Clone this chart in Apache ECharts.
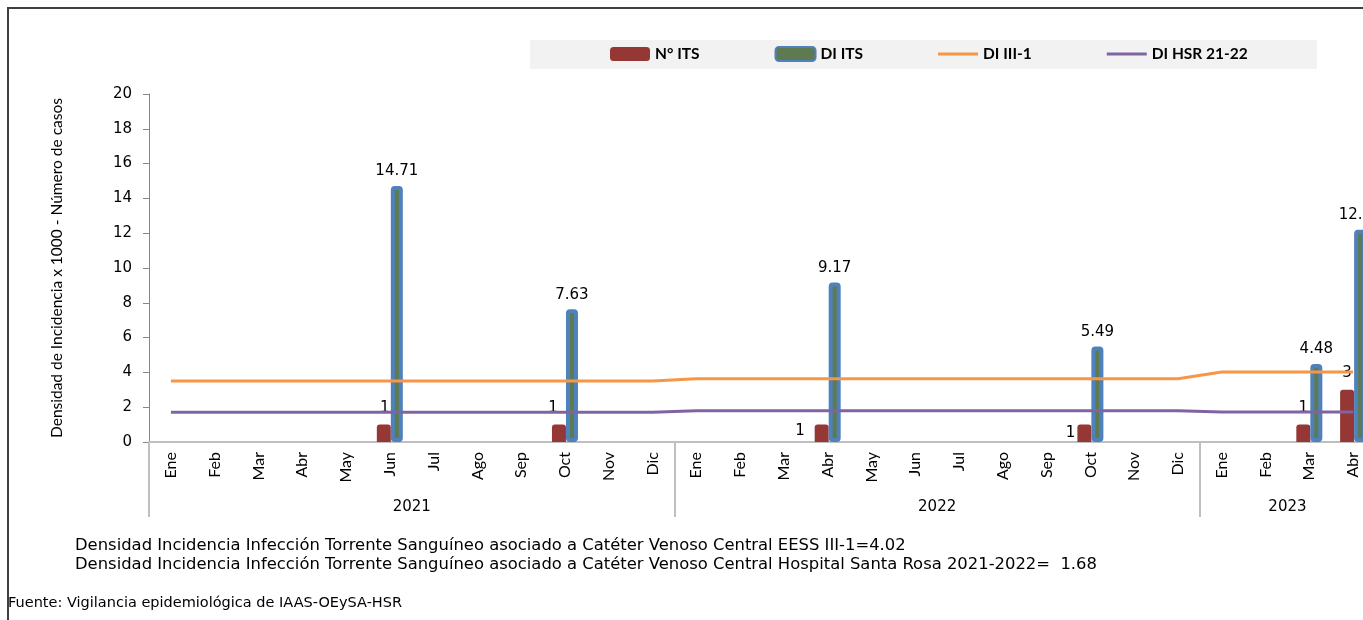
<!DOCTYPE html>
<html>
<head>
<meta charset="utf-8">
<script src="https://cdn.jsdelivr.net/npm/echarts@6/dist/echarts.min.js"></script>
<style>
html,body{margin:0;padding:0;background:#fff;}
#chart{width:1363px;height:620px;}
</style>
</head>
<body>
<div id="chart"></div>
<script>
const categories = ['Ene','Feb','Mar','Abr','May','Jun','Jul','Ago','Sep','Oct','Nov','Dic',
                    'Ene','Feb','Mar','Abr','May','Jun','Jul','Ago','Sep','Oct','Nov','Dic',
                    'Ene','Feb','Mar','Abr'];
const yearLabels = ['2021','2022','2023'];
const yearSizes = [12, 12, 4];
const countITS = [null,null,null,null,null,1,null,null,null,1,null,null,
                  null,null,null,1,null,null,null,null,null,1,null,null,
                  null,null,1,3];
const diITS = [null,null,null,null,null,14.71,null,null,null,7.63,null,null,
               null,null,null,9.17,null,null,null,null,null,5.49,null,null,
               null,null,4.48,12.20];
const diIII1 = [3.5,3.5,3.5,3.5,3.5,3.5,3.5,3.5,3.5,3.5,3.5,3.5,
                3.64,3.64,3.64,3.64,3.64,3.64,3.64,3.64,3.64,3.64,3.64,3.64,
                4.02,4.02,4.02,4.02];
const diHSR = [1.71,1.71,1.71,1.71,1.71,1.71,1.71,1.71,1.71,1.71,1.71,1.71,
               1.79,1.79,1.79,1.79,1.79,1.79,1.79,1.79,1.79,1.79,1.79,1.79,
               1.72,1.72,1.72,1.72];
const yTicks = { min: 0, max: 20, interval: 2 };
const footnotes = [
  'Densidad Incidencia Infección Torrente Sanguíneo asociado a Catéter Venoso Central EESS III-1=4.02',
  'Densidad Incidencia Infección Torrente Sanguíneo asociado a Catéter Venoso Central Hospital Santa Rosa 2021-2022=  1.68'
];
const sourceText = 'Fuente: Vigilancia epidemiológica de IAAS-OEySA-HSR';

// year group centres / boundaries in category units
const yearCenters = [];
const yearBounds = [0];
let acc = 0;
yearSizes.forEach(s => { yearCenters.push(acc + s / 2); acc += s; yearBounds.push(acc); });

// label placement style for the count bars
const countLabelStyle = {
  15: { position: 'left', distance: 10, offset: [0, -2] },
  21: { position: 'left', distance: 2, offset: [0, 0] },
  5:  { position: 'top', distance: 9, offset: [1, 0] },
  9:  { position: 'top', distance: 9, offset: [-6, 0] }
};

const countData = countITS.map((v, i) => {
  if (v == null) return '-';
  const s = countLabelStyle[i] || { position: 'top', distance: 9, offset: [0, 0] };
  return { value: v, label: { position: s.position, distance: s.distance, offset: s.offset } };
});

const chart = echarts.init(document.getElementById('chart'));
const sansC = 'Lato, "Liberation Sans", sans-serif';
const sansV = '"DejaVu Sans", Verdana, sans-serif';
// thin horizontal bar icon for line-series legend entries (corner dots fix the box)
const lineIcon = 'path://M0,5.5h40v3h-40zM0,0h0.05v0.05h-0.05zM39.95,13.95h0.05v0.05h-0.05z';

chart.setOption({
  animation: false,
  backgroundColor: '#ffffff',
  grid: { left: 149, width: 1226, top: 94, bottom: 178, containLabel: false, outerBoundsMode: 'none' },
  legend: {
    left: 530, top: 40,
    padding: [6, 69, 7, 80],
    backgroundColor: '#F2F2F2',
    itemWidth: 40, itemHeight: 14, itemGap: 75,
    textStyle: { fontFamily: sansC, fontSize: 15.5, fontWeight: 'bold', color: '#000' },
    data: [
      { name: 'N° ITS' },
      { name: 'DI ITS' },
      { name: 'DI III-1', icon: lineIcon },
      { name: 'DI HSR 21-22', icon: lineIcon }
    ]
  },
  xAxis: [
    {
      type: 'category',
      data: categories,
      boundaryGap: true,
      axisLine: { lineStyle: { color: '#BFBFBF', width: 2 } },
      axisTick: {
        show: true, length: 75,
        interval: (idx) => yearBounds.indexOf(idx) >= 0,
        lineStyle: { color: '#BFBFBF', width: 2 }
      },
      axisLabel: {
        interval: 0, rotate: 90, margin: 10,
        fontFamily: sansC, fontSize: 16, color: '#000'
      }
    },
    {
      type: 'value',
      min: 0, max: 28, interval: 2,
      position: 'bottom',
      axisLine: { show: false }, axisTick: { show: false }, splitLine: { show: false },
      axisLabel: {
        margin: 58, fontFamily: sansV, fontSize: 15, color: '#000',
        showMinLabel: true, showMaxLabel: true,
        formatter: (v) => { const k = yearCenters.indexOf(v); return k >= 0 ? yearLabels[k] : ''; }
      }
    }
  ],
  yAxis: {
    type: 'value',
    min: yTicks.min, max: yTicks.max, interval: yTicks.interval,
    name: 'Densidad de Incidencia x 1000 - Número de casos',
    nameLocation: 'middle', nameRotate: 90, nameGap: 84,
    nameTextStyle: { fontFamily: sansC, fontSize: 15.5, color: '#000' },
    axisLine: { show: true, lineStyle: { color: '#868686', width: 1 } },
    axisTick: { show: true, length: 6, lineStyle: { color: '#868686' } },
    axisLabel: { margin: 17, fontFamily: sansV, fontSize: 15, color: '#000' },
    splitLine: { show: false }
  },
  series: [
    {
      name: 'N° ITS', type: 'bar', data: countData,
      barWidth: 14, barGap: '0%',
      itemStyle: { color: '#953735', borderRadius: [3, 3, 0, 0] },
      label: { show: true, fontFamily: sansV, fontSize: 15, color: '#000' },
      z: 2
    },
    {
      name: 'DI ITS', type: 'bar', data: diITS.map(v => v == null ? '-' : v),
      barWidth: 12,
      itemStyle: { color: '#5E7A50', borderColor: '#4F81BD', borderWidth: 4, borderRadius: 2 },
      label: {
        show: true, position: 'top', distance: 7,
        fontFamily: sansV, fontSize: 15, color: '#000',
        formatter: (p) => Number(p.value).toFixed(2)
      },
      z: 3
    },
    {
      name: 'DI III-1', type: 'line', data: diIII1,
      symbol: 'none', lineStyle: { color: '#F79646', width: 3 },
      itemStyle: { color: '#F79646' }, z: 4
    },
    {
      name: 'DI HSR 21-22', type: 'line', data: diHSR,
      symbol: 'none', lineStyle: { color: '#8064A2', width: 3 },
      itemStyle: { color: '#8064A2' }, z: 4
    }
  ],
  graphic: [
    {
      type: 'rect', silent: true, z: 100,
      shape: { x: 8, y: 8, width: 1500, height: 800 },
      style: { fill: 'none', stroke: '#404040', lineWidth: 2 }
    },
    {
      type: 'text', left: 75, top: 538,
      style: { text: footnotes[0], font: '16.4px ' + sansV, fill: '#000' }
    },
    {
      type: 'text', left: 75, top: 557,
      style: { text: footnotes[1], font: '16.4px ' + sansV, fill: '#000' }
    },
    {
      type: 'text', left: 8, top: 596,
      style: { text: sourceText, font: '14.5px ' + sansV, fill: '#000' }
    }
  ]
});
</script>
</body>
</html>
